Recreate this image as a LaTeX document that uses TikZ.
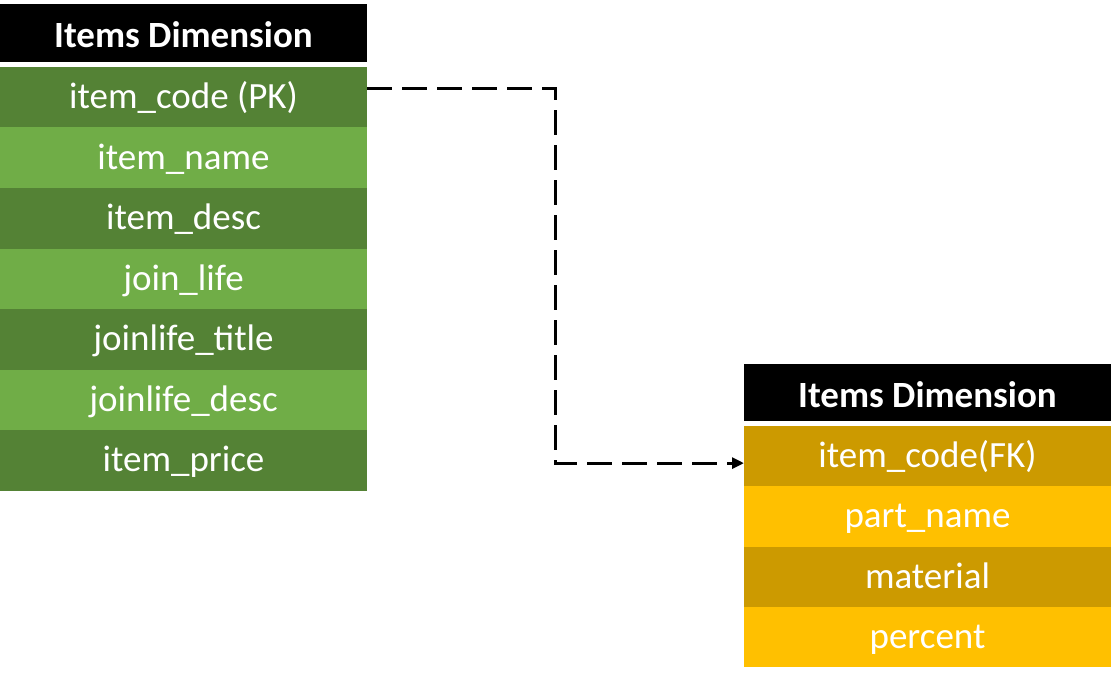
\documentclass[tikz,border=0pt]{standalone}
\usepackage{fontspec}
\setmainfont{Carlito}
\usepackage{xcolor}
\usepackage{tikz}
\usetikzlibrary{arrows.meta, positioning}
\definecolor{hdrblack}{HTML}{000000}
\definecolor{grndark}{HTML}{548235}
\definecolor{grnlight}{HTML}{70AD47}
\definecolor{golddark}{HTML}{CC9A00}
\definecolor{goldlight}{HTML}{FFC000}
\tikzset{
  tblhead/.style={fill=hdrblack, text=white, anchor=north west, inner sep=0pt,
    outer sep=0pt, minimum width=367pt, minimum height=58pt,
    text height=30pt, text depth=1pt,
    font=\fontsize{37}{40}\selectfont\bfseries},
  tblrow/.style={fill=#1, text=white, inner sep=0pt, outer sep=0pt,
    minimum width=367pt, minimum height=60.5pt,
    text height=27pt, text depth=4pt,
    font=\fontsize{37}{40}\selectfont},
  link/.style={line width=3pt, dash pattern=on 25pt off 10pt,
    -{Triangle[length=12pt, width=11pt]}}
}
\begin{document}
\begin{tikzpicture}[x=1pt, y=-1pt]
\useasboundingbox (0,0) rectangle (1114,682);
% left table
\node[tblhead] (lhead) at (0,4) {Items Dimension};
\node[tblrow=grndark, anchor=north west] (pk) at (0,67) {item\_code (PK)};
\node[tblrow=grnlight, below=0pt of pk] (lname) {item\_name};
\node[tblrow=grndark, below=0pt of lname] (ldesc) {item\_desc};
\node[tblrow=grnlight, below=0pt of ldesc] (ljoin) {join\_life};
\node[tblrow=grndark, below=0pt of ljoin] (ltitle) {joinlife\_title};
\node[tblrow=grnlight, below=0pt of ltitle] (ljdesc) {joinlife\_desc};
\node[tblrow=grndark, below=0pt of ljdesc] (lprice) {item\_price};
% right table
\node[tblhead, minimum height=57pt] (rhead) at (744,364) {Items Dimension};
\node[tblrow=golddark, anchor=north west, minimum height=60.25pt] (fk) at (744,426) {item\_code(FK)};
\node[tblrow=goldlight, minimum height=60.25pt, below=0pt of fk] (rpart) {part\_name};
\node[tblrow=golddark, minimum height=60.25pt, below=0pt of rpart] (rmat) {material};
\node[tblrow=goldlight, minimum height=60.25pt, below=0pt of rmat] (rpct) {percent};
% key link
\draw[link] ([yshift=9pt]pk.east) -- ++(188,0) |- ([yshift=-7pt]fk.west);
\end{tikzpicture}
\end{document}
